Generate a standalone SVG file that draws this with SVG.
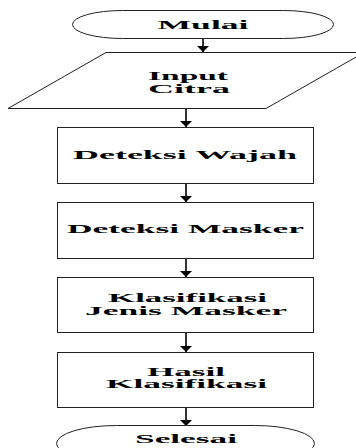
<svg xmlns="http://www.w3.org/2000/svg" width="356" height="448" viewBox="0 0 356 448">
<defs>
<style>
.s{fill:#fff;stroke:#222;stroke-width:1}
.t{font-family:"Liberation Serif","Times New Roman",serif;font-weight:bold;font-size:13px;fill:#000;text-anchor:middle}
.t2{font-size:12px}
.c{stroke:#000;stroke-width:1.6;fill:none}
</style>
<marker id="ah" viewBox="0 0 6 12" refX="6" refY="6" markerWidth="6" markerHeight="12" markerUnits="userSpaceOnUse" orient="auto">
<path d="M0,0 L6,6 L0,12 Z" fill="#000"/>
</marker>
</defs>
<rect width="356" height="448" fill="#fff"/>
<g id="connectors">
<line class="c" x1="203" y1="38" x2="203" y2="52" marker-end="url(#ah)"/>
<line class="c" x1="186" y1="109" x2="186" y2="127" marker-end="url(#ah)"/>
<line class="c" x1="186" y1="183" x2="186" y2="202" marker-end="url(#ah)"/>
<line class="c" x1="186" y1="258" x2="186" y2="277" marker-end="url(#ah)"/>
<line class="c" x1="186" y1="332" x2="186" y2="352" marker-end="url(#ah)"/>
<line class="c" x1="186" y1="407" x2="186" y2="426" marker-end="url(#ah)"/>
</g>
<g id="mulai">
<rect class="s" x="72.5" y="10.5" width="261" height="28" rx="50" ry="14"/>
<text class="t" x="203" y="29" textLength="91" lengthAdjust="spacingAndGlyphs">Mulai</text>
</g>
<g id="input">
<polygon class="s" points="106,52.5 364,52.5 266,108.5 8,108.5"/>
<text class="t t2" x="188" y="80" textLength="80" lengthAdjust="spacingAndGlyphs">Input</text>
<text class="t t2" x="189" y="93" textLength="82" lengthAdjust="spacingAndGlyphs">Citra</text>
</g>
<g id="wajah">
<rect class="s" x="57.5" y="127.5" width="256" height="56"/>
<text class="t" x="185" y="159" font-size="14" textLength="224" lengthAdjust="spacingAndGlyphs">Deteksi Wajah</text>
</g>
<g id="masker">
<rect class="s" x="57.5" y="202.5" width="256" height="56"/>
<text class="t" x="185.5" y="233" font-size="14" textLength="237" lengthAdjust="spacingAndGlyphs">Deteksi Masker</text>
</g>
<g id="klasifikasi">
<rect class="s" x="57.5" y="277.5" width="256" height="55"/>
<text class="t t2" x="187.5" y="301.5" textLength="159" lengthAdjust="spacingAndGlyphs">Klasifikasi</text>
<text class="t t2" x="186" y="314.5" font-size="11.5" textLength="202" lengthAdjust="spacingAndGlyphs">Jenis Masker</text>
</g>
<g id="hasil">
<rect class="s" x="57.5" y="352.5" width="256" height="55"/>
<text class="t t2" x="186" y="376" textLength="78" lengthAdjust="spacingAndGlyphs">Hasil</text>
<text class="t t2" x="186.5" y="388" textLength="161" lengthAdjust="spacingAndGlyphs">Klasifikasi</text>
</g>
<g id="selesai">
<rect class="s" x="56.5" y="425.5" width="258" height="36" rx="60" ry="18"/>
<text class="t" x="186" y="443" textLength="102" lengthAdjust="spacingAndGlyphs">Selesai</text>
</g>
</svg>
